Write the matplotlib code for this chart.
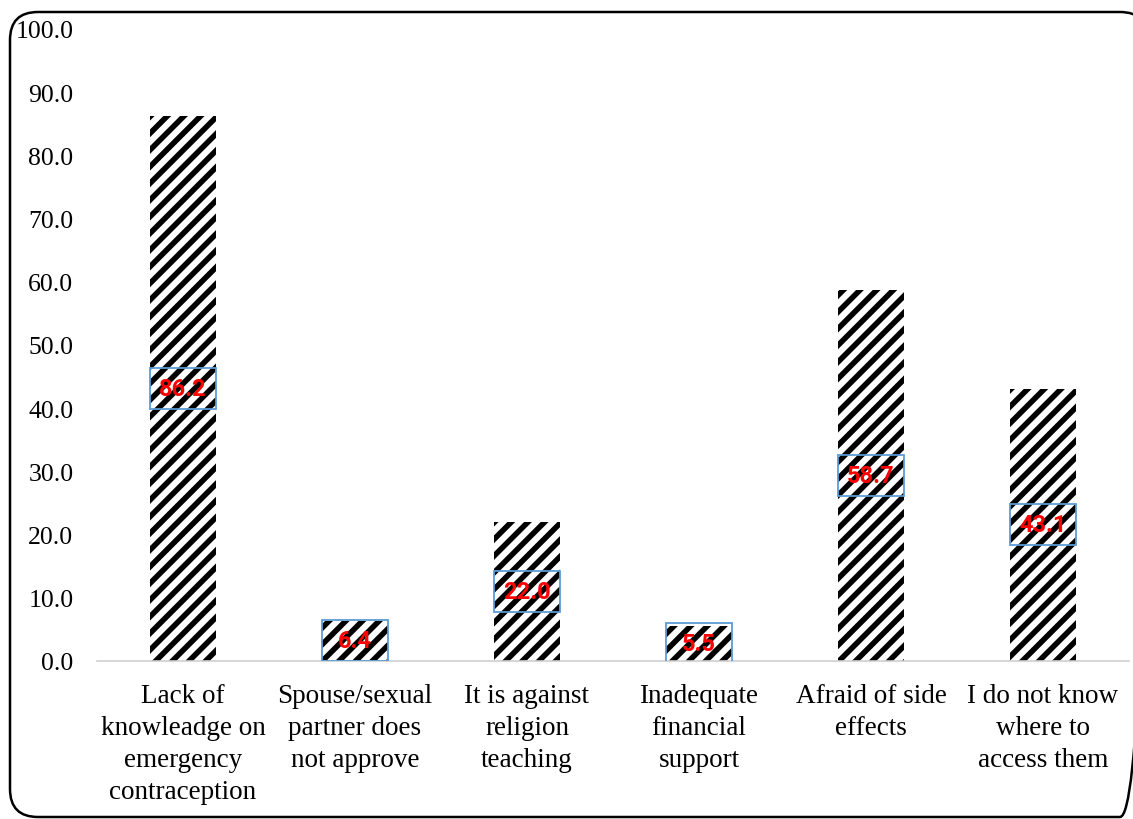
import matplotlib.pyplot as plt
from matplotlib.patches import FancyBboxPatch, Rectangle

categories = [
    "Lack of\nknowleadge on\nemergency\ncontraception",
    "Spouse/sexual\npartner does\nnot approve",
    "It is against\nreligion\nteaching",
    "Inadequate\nfinancial\nsupport",
    "Afraid of side\neffects",
    "I do not know\nwhere to\naccess them",
]
percent = [86.2, 6.4, 22.0, 5.5, 58.7, 43.1]
yticks = [0, 10, 20, 30, 40, 50, 60, 70, 80, 90, 100]

plt.rcParams['hatch.linewidth'] = 4.0

fig = plt.figure(figsize=(11.33, 8.2), dpi=100)
ax = fig.add_axes([97 / 1133, 1 - 662 / 820, 1032 / 1133, 632 / 820])

x = list(range(len(categories)))
w = 0.38
ax.bar(x, percent, width=w, color='white', edgecolor='black', hatch='//', linewidth=0)

# value labels sit in an outlined box at half the bar height
box_h = 6.5
for xi, v in zip(x, percent):
    ax.add_patch(Rectangle((xi - w / 2, v / 2 - box_h / 2), w, box_h, fill=False,
                           edgecolor='#5B9BD5', linewidth=1.3, zorder=3))
    ax.text(xi, v / 2, f"{v:.1f}", ha='center', va='center', color='red',
            fontsize=17, fontweight='bold', family='Roboto', zorder=4)

ax.set_xlim(-0.5, 5.5)
ax.set_ylim(0, 100)
ax.set_yticks(yticks)
ax.set_yticklabels([f"{t:.1f}" for t in yticks], family='Liberation Serif', fontsize=18.5)
ax.set_xticks(x)
ax.set_xticklabels(categories, family='Liberation Serif', fontsize=19.5, linespacing=1.36)
ax.tick_params(axis='both', length=0)
ax.tick_params(axis='y', pad=17)
ax.tick_params(axis='x', pad=16)
for side in ['top', 'right', 'left']:
    ax.spines[side].set_visible(False)
ax.spines['bottom'].set_color('#d0d0d0')
ax.spines['bottom'].set_linewidth(1.2)

# rounded frame around the whole chart
bg = fig.add_axes([0, 0, 1, 1], zorder=-1)
bg.set_xlim(0, 1133)
bg.set_ylim(820, 0)
bg.axis('off')
bg.add_patch(FancyBboxPatch((10, 13), 1138, 805, boxstyle='round,pad=0,rounding_size=28',
                            fill=False, edgecolor='black', linewidth=1.8, clip_on=False))

fig.savefig('out.png', dpi=100)
